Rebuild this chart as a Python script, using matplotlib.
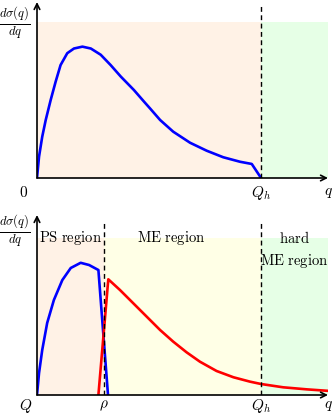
import numpy as np
import matplotlib
matplotlib.use("Agg")
import matplotlib.pyplot as plt

plt.rcParams['mathtext.fontset'] = 'cm'
plt.rcParams['font.family'] = ['DejaVu Serif']

# region boundaries (q axis, arbitrary units)
Q_h = 7.7
rho = 2.3
q_max = 10.0

# top panel: PS curve without matching
top_q = [0.0, 0.07, 0.18, 0.30, 0.47, 0.64, 0.81, 1.04, 1.27, 1.56, 1.85, 2.19,
         2.53, 2.88, 3.33, 3.68, 3.88, 4.23, 4.68, 5.26, 5.83, 6.40, 6.98, 7.38, 7.70]
top_y = [0.0, 0.137, 0.265, 0.372, 0.50, 0.617, 0.724, 0.80, 0.83, 0.842, 0.83, 0.79,
         0.724, 0.65, 0.564, 0.489, 0.447, 0.372, 0.297, 0.226, 0.175, 0.133, 0.104, 0.09, 0.0]

# bottom panel: PS part (blue) and ME part (red)
ps_q = [0.0, 0.07, 0.18, 0.35, 0.58, 0.87, 1.16, 1.50, 1.79, 2.11, 2.44]
ps_y = [0.0, 0.14, 0.287, 0.459, 0.605, 0.732, 0.809, 0.842, 0.828, 0.796, 0.0]
me_q = [2.11, 2.45, 2.85, 3.31, 3.77, 4.23, 4.68, 5.14, 5.60, 6.17, 6.75, 7.32,
        7.70, 8.46, 9.27, 9.96]
me_y = [0.0, 0.737, 0.669, 0.584, 0.499, 0.414, 0.34, 0.272, 0.212, 0.153, 0.113,
        0.085, 0.07, 0.049, 0.036, 0.027]

c_orange = '#fff2e6'
c_yellow = '#ffffe6'
c_green = '#e6ffe6'

W, H = 332, 415
fig = plt.figure(figsize=(W / 100, H / 100), dpi=100)


def make_axes(bottom_px, top_px, ytop):
    ax = fig.add_axes([37 / W, 1 - bottom_px / H, (328 - 37) / W, (bottom_px - top_px) / H])
    ax.set_xlim(0, q_max)
    ax.set_ylim(0, ytop)
    ax.axis('off')
    return ax


def draw_frame(ax, ytop):
    ax.annotate('', xy=(q_max, 0), xytext=(0, 0),
                arrowprops=dict(arrowstyle='->', lw=1.2, color='black',
                                shrinkA=0, shrinkB=0), annotation_clip=False)
    ax.annotate('', xy=(0, ytop), xytext=(0, 0),
                arrowprops=dict(arrowstyle='->', lw=1.2, color='black',
                                shrinkA=0, shrinkB=0), annotation_clip=False)


lab = dict(fontsize=11, ha='center', va='center')
reg = dict(fontsize=10.5, ha='center', va='center')

# ---- top panel ----
ytop1 = 176 / 156
ax1 = make_axes(178, 2, ytop1)
ax1.fill_between([0, Q_h], 0, 1, color=c_orange, lw=0)
ax1.fill_between([Q_h, q_max], 0, 1, color=c_green, lw=0)
ax1.plot(top_q, top_y, color='#0000ff', lw=1.9, solid_joinstyle='round')
ax1.plot([Q_h, Q_h], [0, 1.115], color='black', lw=1.0, ls=(0, (3.5, 2.5)))
draw_frame(ax1, ytop1)
ax1.text(-0.78, 0.99, r'$\frac{d\sigma(q)}{dq}$', fontsize=13, ha='center', va='center')
ax1.text(-0.45, -0.095, r'$0$', **lab)
ax1.text(Q_h, -0.095, r'$Q_h$', **lab)
ax1.text(q_max, -0.095, r'$q$', **lab)

# ---- bottom panel ----
ytop2 = 180 / 157
ax2 = make_axes(395, 215, ytop2)
ax2.fill_between([0, rho], 0, 1, color=c_orange, lw=0)
ax2.fill_between([rho, Q_h], 0, 1, color=c_yellow, lw=0)
ax2.fill_between([Q_h, q_max], 0, 1, color=c_green, lw=0)
ax2.plot(ps_q, ps_y, color='#0000ff', lw=1.9, solid_joinstyle='round')
ax2.plot(me_q, me_y, color='#ff0000', lw=1.9, solid_joinstyle='round')
for xv in (rho, Q_h):
    ax2.plot([xv, xv], [0, 1.115], color='black', lw=1.0, ls=(0, (3.5, 2.5)))
draw_frame(ax2, ytop2)
ax2.text(-0.78, 1.04, r'$\frac{d\sigma(q)}{dq}$', fontsize=13, ha='center', va='center')
ax2.text(-0.4, -0.07, r'$Q$', **lab)
ax2.text(rho, -0.07, r'$\rho$', **lab)
ax2.text(Q_h, -0.07, r'$Q_h$', **lab)
ax2.text(q_max, -0.07, r'$q$', **lab)
ax2.text(1.15, 1.0, r'$\mathrm{PS\ region}$', **reg)
ax2.text(4.6, 1.0, r'$\mathrm{ME\ region}$', **reg)
ax2.text(8.85, 1.0, r'$\mathrm{hard}$', **reg)
ax2.text(8.85, 0.855, r'$\mathrm{ME\ region}$', **reg)

fig.savefig('out.png', dpi=100)
